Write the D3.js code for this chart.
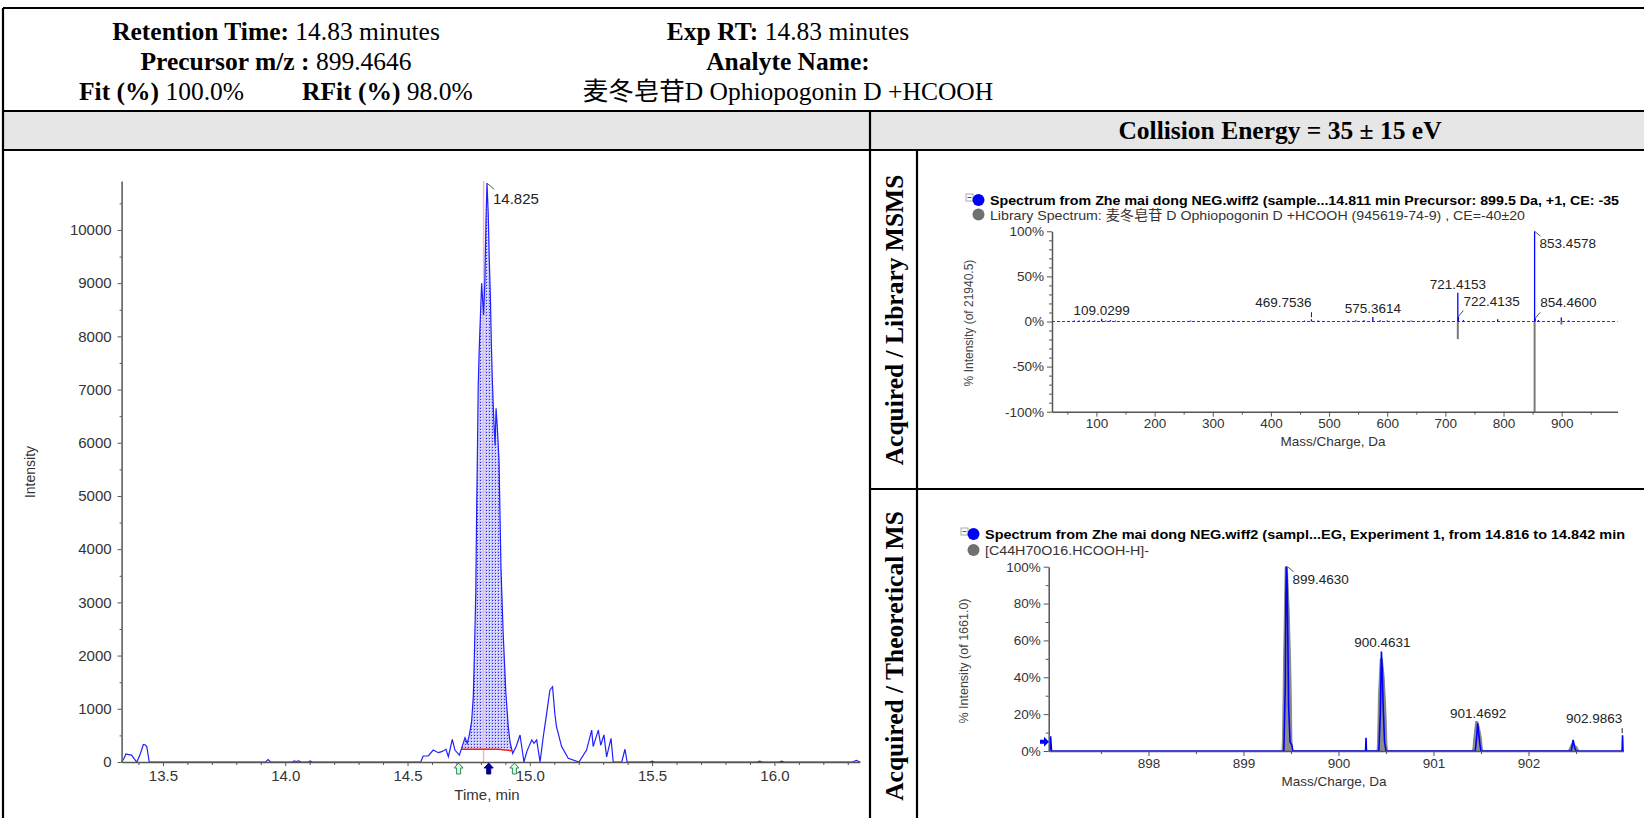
<!DOCTYPE html>
<html><head><meta charset="utf-8">
<script src="https://cdn.jsdelivr.net/npm/d3@7"></script>
<style>body{margin:0;background:#fff}svg{display:block}</style>
</head><body>
<svg id="c" width="1644" height="818"></svg>
<script>
// ---------------- DATA ----------------
const headerLeftBold = ["Retention Time:", "Precursor m/z :"];
const headerLeftText = [" 14.83 minutes", " 899.4646"];
const fitBold = ["Fit (%)", "RFit (%)"];
const fitText = [" 100.0%", " 98.0%"];
const headerRightBold = ["Exp RT:", "Analyte Name:", ""];
const headerRightText = [" 14.83 minutes", "", "麦冬皂苷D Ophiopogonin D +HCOOH"];
const collisionTitle = "Collision Energy = 35 ± 15 eV";
const panelTitles = ["Acquired / Library MSMS", "Acquired / Theoretical MS"];

// XIC chromatogram
const chromTime = [13.331,13.340,13.349,13.360,13.372,13.383,13.393,13.405,13.420,13.428,
13.434,13.444,13.460,13.920,13.930,13.940,14.030,14.037,14.045,14.055,
14.065,14.095,14.102,14.110,14.554,14.564,14.585,14.605,14.626,14.640,
14.657,14.667,14.683,14.694,14.712,14.721,14.735,14.744,14.752,14.762,
14.769,14.773,14.779,14.783,14.785,14.789,14.793,14.799,14.803,14.807,
14.811,14.816,14.821,14.825,14.830,14.834,14.839,14.843,14.847,14.853,
14.858,14.862,14.867,14.874,14.882,14.891,14.902,14.912,14.919,14.930,
14.945,14.960,14.976,14.988,15.008,15.017,15.028,15.042,15.055,15.069,
15.082,15.093,15.102,15.109,15.130,15.157,15.201,15.232,15.253,15.259,
15.280,15.290,15.303,15.314,15.332,15.341,15.376,15.389,15.398,15.490,
15.500,15.510,15.930,15.940,15.950,16.020,16.030,16.040,16.320,16.335,16.350];
const chromIntensity = [0,60,150,140,130,60,0,120,330,320,
290,0,0,0,45,0,0,20,10,20,
0,0,20,0,0,113,113,225,175,194,
238,100,426,225,131,257,457,351,489,758,
1230,1920,3170,4870,5490,7050,7740,8500,9000,8700,
8400,9000,10200,10880,10300,9500,8700,7800,7150,6400,
5950,6650,6300,5680,3670,2420,1300,660,380,160,
300,508,0,200,413,351,413,0,475,915,
1350,1415,920,665,290,70,0,225,600,290,
600,315,510,95,445,0,0,240,0,0,
15,0,0,15,0,0,15,0,0,30,0];
const baselineTime = [14.721, 14.871, 14.925];
const baselineIntensity = [238, 238, 212];
const apexTime = 14.825, apexIntensity = 10880, apexLabel = "14.825";
const rtMarkerTime = 14.811;
const boundaryArrowTimes = [14.709, 14.937];
const apexArrowTimes = [14.832];
const chromYTicks = [0,1000,2000,3000,4000,5000,6000,7000,8000,9000,10000];
const chromXTicks = [13.5,14.0,14.5,15.0,15.5,16.0];

// MSMS (acquired up, library down)
const msmsLegend = ["Spectrum from Zhe mai dong NEG.wiff2 (sample...14.811 min Precursor: 899.5 Da, +1, CE: -35",
                    "Library  Spectrum: 麦冬皂苷 D Ophiopogonin D +HCOOH (945619-74-9) , CE=-40±20"];
const msmsAcqMz = [62,70,78,88,97,109.0299,116,124,133,262,335,382,401,458,469.7536,481,533,546,560,575.3614,
588,600,627,641,663,690,721.4153,722.4135,731,790,853.4578,854.4600,860,899.4,912];
const msmsAcqPct = [1,1.2,1,1.3,1,3,1.2,1.5,1,1,1,1.2,1,1,2.5,1,1,1.5,1.5,5,
1.5,1,1.2,1,1,1.5,32,5.5,1.5,2.5,100,3.5,1.5,4.5,1];
const msmsLibMz = [721.4153, 853.4578, 899.5];
const msmsLibPct = [19.5, 100, 3.5];
const msmsLabels = ["109.0299","469.7536","575.3614","721.4153","722.4135","853.4578","854.4600"];
const msmsYTicks = [-100,-50,0,50,100];
const msmsXTicks = [100,200,300,400,500,600,700,800,900];
const msmsYTitle = "% Intensity (of 21940.5)";

// MS (acquired profile vs theoretical isotope pattern)
const msLegend = ["Spectrum from Zhe mai dong NEG.wiff2 (sampl...EG, Experiment 1, from 14.816 to 14.842 min",
                  "[C44H70O16.HCOOH-H]-"];
const msTheoMz = [899.405,899.411,899.421,899.439,899.462,899.481,899.499,899.510,899.516,
900.405,900.411,900.421,900.439,900.462,900.481,900.499,900.510,900.516,
901.410,901.416,901.426,901.444,901.467,901.486,901.504,901.515,901.521,
902.420,902.426,902.436,902.454,902.477,902.496,902.514,902.525,902.531];
const msTheoPct = [0,7,45,100,100,77,43,7,0,
0,4,30,50,50,40,22,4,0,
0,2,8,16,16,12,7,1,0,
0,1,2,4,4,3,2,0.5,0];
const msAcqMz = [896.96,896.97,896.98,
899.425,899.44,899.447,899.452,899.458,899.465,899.475,899.49,899.51,899.52,
900.285,900.29,900.295,
900.425,900.44,900.452,900.46,900.47,900.485,900.5,
901.44,901.455,901.465,901.475,901.49,901.5,
902.45,902.47,902.485,902.5,
902.985,902.99,902.995];
const msAcqPct = [0,8,0,
0,35,85,100,95,70,25,5,3,0,
0,7.2,0,
0,20,54,45,25,5,0,
0,8,15,10,3,0,
0,6,2,0,
0,8.6,0];
const msLabels = ["899.4630","900.4631","901.4692","902.9863"];
const msYTicks = [0,20,40,60,80,100];
const msXTicks = [898,899,900,901,902];
const msYTitle = "% Intensity (of 1661.0)";

// ---------------- DRAWING ----------------
const W = 1644, H = 818;
const svg = d3.select("#c");
const SERIF = "'Liberation Serif','Times New Roman','Noto Sans CJK SC',serif";
const SANS = "'Liberation Sans',Arial,'Noto Sans CJK SC',sans-serif";

const defs = svg.append("defs");
const pat = defs.append("pattern").attr("id","dots").attr("width",3).attr("height",3).attr("patternUnits","userSpaceOnUse");
pat.append("rect").attr("width",3).attr("height",3).attr("fill","#c6c6fa");
pat.append("rect").attr("width",1).attr("height",1).attr("fill","#2a2aff");
pat.append("rect").attr("x",1).attr("y",1).attr("width",1).attr("height",1).attr("fill","#ffffff");

// gray band + frame
svg.append("rect").attr("x",3).attr("y",111).attr("width",W-3).attr("height",39).attr("fill","#e6e6e6");
const frameLines = [[3,8,W,8],[3,8,3,H],[3,111,W,111],[3,150,W,150],[870,111,870,H],[917,150,917,H],[870,489,W,489]];
svg.append("g").selectAll("line").data(frameLines).join("line")
  .attr("x1",d=>d[0]).attr("y1",d=>d[1]).attr("x2",d=>d[2]).attr("y2",d=>d[3])
  .attr("stroke","#000").attr("stroke-width",2.2);

// header
const hdr = svg.append("g").attr("font-family",SERIF).attr("font-size",25.5).attr("fill","#000");
function rich(g, x, y, anchor, b, t){
  const tx = g.append("text").attr("x",x).attr("y",y).attr("text-anchor",anchor);
  if (b) tx.append("tspan").attr("font-weight","bold").text(b);
  if (t) tx.append("tspan").text(t);
  return tx;
}
headerLeftBold.forEach((b,i)=>rich(hdr,276,40+30*i,"middle",b,headerLeftText[i]));
rich(hdr,79,100,"start",fitBold[0],fitText[0]);
rich(hdr,302,100,"start",fitBold[1],fitText[1]);
headerRightBold.forEach((b,i)=>rich(hdr,788,40+30*i,"middle",b,headerRightText[i]));
hdr.append("text").attr("x",1280).attr("y",139).attr("text-anchor","middle").attr("font-weight","bold").text(collisionTitle);
[[894,320],[894,656]].forEach((p,i)=>{
  hdr.append("text").attr("transform",`translate(${p[0]},${p[1]}) rotate(-90)`).attr("text-anchor","middle")
    .attr("dy","0.35em").attr("font-weight","bold").text(panelTitles[i]);
});

function styleAxis(g, fs){
  g.attr("font-family",SANS).attr("font-size",fs).attr("color","#555");
  g.selectAll("text").attr("fill","#333");
  g.select(".domain").attr("stroke-width",1.5);
}

// ---------- chromatogram ----------
const cx = d3.scaleLinear().domain([13.331,16.35]).range([121.6,860]);
const cy = d3.scaleLinear().domain([0,10920]).range([762,181]);
const chrom = chromTime.map((t,i)=>({t, v:chromIntensity[i]}));
const chromAt = d3.scaleLinear().domain(chromTime).range(chromIntensity);
const baseAt = d3.scaleLinear().domain(baselineTime).range(baselineIntensity);
const t0 = baselineTime[0], t1 = baselineTime[baselineTime.length-1];
const topPts = [{t:t0,v:chromAt(t0)}].concat(chrom.filter(d=>d.t>t0&&d.t<t1)).concat([{t:t1,v:chromAt(t1)}]);
const area = d3.area().x(d=>cx(d.t)).y1(d=>cy(d.v)).y0(d=>cy(baseAt(d.t)));
const cg = svg.append("g");
cg.append("path").datum(topPts).attr("d",area).attr("fill","url(#dots)");
cg.append("line").attr("x1",cx(rtMarkerTime)).attr("x2",cx(rtMarkerTime)).attr("y1",cy.range()[1]).attr("y2",cy(0))
  .attr("stroke","#f7b6c2").attr("stroke-width",1.5);
cg.append("path").datum(baselineTime.map((t,i)=>({t,v:baselineIntensity[i]})))
  .attr("d",d3.line().x(d=>cx(d.t)).y(d=>cy(d.v))).attr("fill","none").attr("stroke","#ff1a1a").attr("stroke-width",1.5);
cg.append("path").datum(chrom).attr("d",d3.line().x(d=>cx(d.t)).y(d=>cy(d.v)))
  .attr("fill","none").attr("stroke","#1f1fff").attr("stroke-width",1.2);

const cyAxis = cg.append("g").attr("transform","translate(121.6,0)")
  .call(d3.axisLeft(cy).tickValues(chromYTicks).tickSize(4).tickPadding(6).tickSizeOuter(0).tickFormat(d3.format("d")));
styleAxis(cyAxis,15);
const cyMinor = cg.append("g").attr("transform","translate(121.6,0)")
  .call(d3.axisLeft(cy).tickValues(chromYTicks.map(v=>v+500)).tickSize(2).tickFormat(""));
cyMinor.attr("color","#555").select(".domain").remove();
const cxAxis = cg.append("g").attr("transform","translate(0,762)")
  .call(d3.axisBottom(cx).tickValues(chromXTicks).tickSize(4).tickPadding(4).tickSizeOuter(0).tickFormat(d3.format(".1f")));
styleAxis(cxAxis,15);
const cxMinor = cg.append("g").attr("transform","translate(0,762)")
  .call(d3.axisBottom(cx).tickValues(d3.range(134,164).map(v=>v/10).filter(v=>Math.abs(v*2-Math.round(v*2))>1e-6)).tickSize(3).tickFormat(""));
cxMinor.attr("color","#555").select(".domain").remove();

cg.append("text").attr("x",487).attr("y",800).attr("text-anchor","middle").attr("font-family",SANS).attr("font-size",15).attr("fill","#333").text("Time, min");
cg.append("text").attr("transform","translate(30,472) rotate(-90)").attr("text-anchor","middle").attr("dy","0.35em")
  .attr("font-family",SANS).attr("font-size",14).attr("fill","#333").text("Intensity");
// apex label
const ax = cx(apexTime), ay = cy(apexIntensity);
cg.append("line").attr("x1",ax).attr("y1",ay).attr("x2",ax+7).attr("y2",ay+6).attr("stroke","#555");
cg.append("text").attr("x",ax+6).attr("y",ay+21).attr("font-family",SANS).attr("font-size",15).attr("fill","#222").text(apexLabel);
// arrows
const arrowShape = [[0,0],[4.5,5],[2,5],[2,11],[-2,11],[-2,5],[-4.5,5]];
cg.selectAll("polygon.ba").data(boundaryArrowTimes).join("polygon").attr("class","ba")
  .attr("points",t=>arrowShape.map(p=>[cx(t)+p[0],763+p[1]].join(",")).join(" "))
  .attr("fill","#d6ffe0").attr("stroke","#2e8b57").attr("stroke-width",1);
cg.selectAll("polygon.aa").data(apexArrowTimes).join("polygon").attr("class","aa")
  .attr("points",t=>arrowShape.map(p=>[cx(t)+p[0],763+p[1]].join(",")).join(" "))
  .attr("fill","#000090").attr("stroke","#000090").attr("stroke-width",1);

// ---------- legend helper ----------
function legend(g, x0, y1, y2, texts, widths, fs){
  g.append("rect").attr("x",x0-18).attr("y",y1-11).attr("width",7).attr("height",7).attr("fill","#fff").attr("stroke","#aaa");
  g.append("line").attr("x1",x0-16.5).attr("x2",x0-12.5).attr("y1",y1-7.5).attr("y2",y1-7.5).attr("stroke","#555");
  g.append("circle").attr("cx",x0-5.5).attr("cy",y1-5).attr("r",6).attr("fill","#0000ff");
  g.append("circle").attr("cx",x0-5.5).attr("cy",y2-5).attr("r",6).attr("fill","#707070");
  g.append("text").attr("x",x0+6).attr("y",y1).attr("font-family",SANS).attr("font-size",fs).attr("font-weight","bold")
    .attr("textLength",widths[0]).attr("lengthAdjust","spacingAndGlyphs").text(texts[0]);
  g.append("text").attr("x",x0+6).attr("y",y2).attr("font-family",SANS).attr("font-size",fs).attr("fill","#333")
    .attr("textLength",widths[1]).attr("lengthAdjust","spacingAndGlyphs").text(texts[1]);
}

// ---------- MSMS ----------
const mx = d3.scaleLinear().domain([23.6,996]).range([1052,1617.5]);
const my = d3.scaleLinear().domain([-100,100]).range([411.7,231.3]);
const mg = svg.append("g");
legend(mg, 984, 205, 219.5, msmsLegend, [629, 535], 13.5);
mg.append("line").attr("x1",1052).attr("x2",1617.5).attr("y1",my(0)).attr("y2",my(0))
  .attr("stroke","#444").attr("stroke-dasharray","3,2").attr("stroke-width",1);
mg.selectAll("line.lib").data(msmsLibMz).join("line").attr("class","lib")
  .attr("x1",d=>mx(d)).attr("x2",d=>mx(d)).attr("y1",my(0)).attr("y2",(d,i)=>my(-msmsLibPct[i]))
  .attr("stroke","#7a7a7a").attr("stroke-width",2);
mg.selectAll("line.acq").data(msmsAcqMz).join("line").attr("class","acq")
  .attr("x1",d=>mx(d)).attr("x2",d=>mx(d)).attr("y1",my(0)).attr("y2",(d,i)=>my(msmsAcqPct[i]))
  .attr("stroke","#0000ff").attr("stroke-width",1.3);
const myAxis = mg.append("g").attr("transform","translate(1052,0)")
  .call(d3.axisLeft(my).tickValues(msmsYTicks).tickSize(5).tickPadding(3).tickSizeOuter(0).tickFormat(d=>d+"%"));
styleAxis(myAxis,13.5);
mg.append("g").attr("transform","translate(1052,0)")
  .call(d3.axisLeft(my).tickValues(d3.range(-90,100,10).filter(v=>v%50!==0)).tickSize(3).tickFormat(""))
  .attr("color","#555").select(".domain").remove();
const mxAxis = mg.append("g").attr("transform","translate(0,411.7)")
  .call(d3.axisBottom(mx).tickValues(msmsXTicks).tickSize(5).tickPadding(2).tickSizeOuter(0).tickFormat(d3.format("d")));
styleAxis(mxAxis,13.5);
mg.append("g").attr("transform","translate(0,411.7)")
  .call(d3.axisBottom(mx).tickValues(d3.range(50,1000,100)).tickSize(3).tickFormat(""))
  .attr("color","#555").select(".domain").remove();
mg.append("text").attr("x",1333).attr("y",446).attr("text-anchor","middle").attr("font-family",SANS).attr("font-size",13.5).attr("fill","#333").text("Mass/Charge, Da");
mg.append("text").attr("transform","translate(969,323) rotate(-90)").attr("text-anchor","middle").attr("dy","0.35em")
  .attr("font-family",SANS).attr("font-size",12).attr("fill","#444").text(msmsYTitle);

function peakLabel(g, x, yTop, txt, style){
  const t = g.append("text").attr("font-family",SANS).attr("font-size",13.5).attr("fill","#222");
  if (style==="center"){ t.attr("x",x).attr("y",yTop-4).attr("text-anchor","middle"); }
  else if (style==="left"){ t.attr("x",x).attr("y",yTop-12).attr("text-anchor","end");
    g.append("line").attr("x1",x).attr("x2",x).attr("y1",yTop-7).attr("y2",yTop-2).attr("stroke","#222"); }
  else if (style==="rightUp"){ t.attr("x",x+5).attr("y",yTop-11);
    g.append("line").attr("x1",x).attr("y1",yTop).attr("x2",x+5).attr("y2",yTop-6).attr("stroke","#555"); }
  else { t.attr("x",x+5).attr("y",yTop+17);
    g.append("line").attr("x1",x).attr("y1",yTop).attr("x2",x+6).attr("y2",yTop+5).attr("stroke","#555"); }
  t.text(txt);
}
const msmsLabelStyle = {"109.0299":"center","469.7536":"left","575.3614":"center","721.4153":"center","722.4135":"rightUp","853.4578":"rightDown","854.4600":"rightUp"};
msmsLabels.forEach(l=>{
  const m = +l; const i = msmsAcqMz.findIndex(v=>Math.abs(v-m)<0.01);
  peakLabel(mg, mx(m), my(msmsAcqPct[i]), l, msmsLabelStyle[l]);
});

// ---------- MS ----------
const sx = d3.scaleLinear().domain([896.95,903.0]).range([1048.7,1623.5]);
const sy = d3.scaleLinear().domain([0,100]).range([751,566.7]);
const sg = svg.append("g");
legend(sg, 979, 539, 555, msLegend, [640, 164], 13.5);
const theo = msTheoMz.map((m,i)=>({m,p:msTheoPct[i]}));
sg.append("path").datum(theo).attr("d",d3.area().x(d=>sx(d.m)).y0(sy(0)).y1(d=>sy(d.p)))
  .attr("fill","#8c8c8c").attr("stroke","#7a7a7a").attr("stroke-width",0.8);
const acq = msAcqMz.map((m,i)=>({m,p:msAcqPct[i]}));
sg.append("path").datum(acq).attr("d",d3.line().x(d=>sx(d.m)).y(d=>sy(d.p)))
  .attr("fill","none").attr("stroke","#0000ff").attr("stroke-width",1.6);
const syAxis = sg.append("g").attr("transform","translate(1048.7,0)")
  .call(d3.axisLeft(sy).tickValues(msYTicks).tickSize(5).tickPadding(3).tickSizeOuter(0).tickFormat(d=>d+"%"));
styleAxis(syAxis,13.5);
sg.append("g").attr("transform","translate(1048.7,0)")
  .call(d3.axisLeft(sy).tickValues(d3.range(10,100,20)).tickSize(3).tickFormat(""))
  .attr("color","#555").select(".domain").remove();
const sxAxis = sg.append("g").attr("transform","translate(0,751)")
  .call(d3.axisBottom(sx).tickValues(msXTicks).tickSize(5).tickPadding(2).tickSizeOuter(0).tickFormat(d3.format("d")));
styleAxis(sxAxis,13.5);
sg.append("g").attr("transform","translate(0,751)")
  .call(d3.axisBottom(sx).tickValues(d3.range(897.5,903,1)).tickSize(3).tickFormat(""))
  .attr("color","#555").select(".domain").remove();
sg.append("text").attr("x",1334).attr("y",786).attr("text-anchor","middle").attr("font-family",SANS).attr("font-size",13.5).attr("fill","#333").text("Mass/Charge, Da");
sg.append("text").attr("transform","translate(964,661) rotate(-90)").attr("text-anchor","middle").attr("dy","0.35em")
  .attr("font-family",SANS).attr("font-size",12.5).attr("fill","#444").text(msYTitle);
// precursor arrow marker at left edge
const precY = sy(5);
sg.append("polygon").attr("points",[[1040,precY-2],[1044,precY-2],[1044,precY-5],[1049,precY],[1044,precY+5],[1044,precY+2],[1040,precY+2]].map(p=>p.join(",")).join(" "))
  .attr("fill","#0000ff");
const msLabelStyle = {"899.4630":"rightDown","900.4631":"center","901.4692":"center","902.9863":"left"};
msLabels.forEach(l=>{
  const m = +l;
  const near = acq.concat(theo).filter(d=>Math.abs(d.m-m)<0.06);
  const top = d3.max(near,d=>d.p);
  peakLabel(sg, Math.min(sx(m), 1622.5), sy(top), l, msLabelStyle[l]);
});
</script>
</body></html>
